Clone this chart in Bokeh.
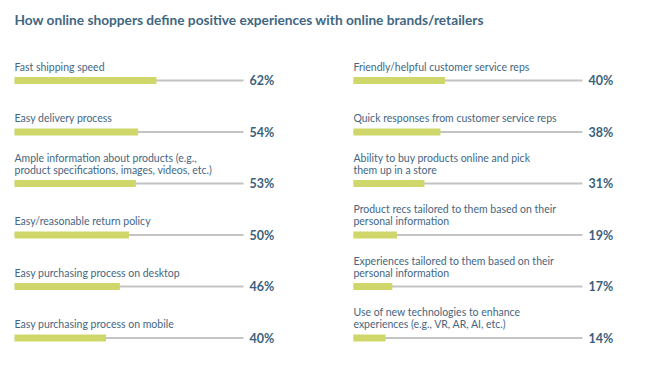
from bokeh.plotting import figure
from bokeh.models import ColumnDataSource, Range1d, Label
from bokeh.embed import file_html
from bokeh.resources import INLINE
from bokeh.core.properties import value

title = "How online shoppers define positive experiences with online brands/retailers"

left_labels = [
    "Fast shipping speed",
    "Easy delivery process",
    "Ample information about products (e.g.,\nproduct specifications, images, videos, etc.)",
    "Easy/reasonable return policy",
    "Easy purchasing process on desktop",
    "Easy purchasing process on mobile",
]
left_values = [62, 54, 53, 50, 46, 40]

right_labels = [
    "Friendly/helpful customer service reps",
    "Quick responses from customer service reps",
    "Ability to buy products online and pick\nthem up in a store",
    "Product recs tailored to them based on their\npersonal information",
    "Experiences tailored to them based on their\npersonal information",
    "Use of new technologies to enhance\nexperiences (e.g., VR, AR, AI, etc.)",
]
right_values = [40, 38, 31, 19, 17, 14]

# layout constants
W, H = 632, 356
PX_PER_UNIT_X = 2.29
PX_PER_ROW = 51.5
X0_PX = 14
ROW0_PX = 80
RIGHT_OFFSET = 148
TRACK_END = 100

x_start = -X0_PX / PX_PER_UNIT_X
x_end = x_start + W / PX_PER_UNIT_X
y_top = -ROW0_PX / PX_PER_ROW
y_bottom = y_top + H / PX_PER_ROW

p = figure(width=W, height=H, output_backend="svg", toolbar_location=None,
           x_range=Range1d(x_start, x_end), y_range=Range1d(y_bottom, y_top),
           min_border=0, min_border_left=0, min_border_right=0,
           min_border_top=0, min_border_bottom=0)
p.axis.visible = False
p.grid.visible = False
p.outline_line_color = None
p.background_fill_color = "white"

LABEL_FONT = value("Lato")
BOLD_FONT = value("Lato")
label_color = "#45667f"
pct_color = "#3c5f7a"
bar_color = "#cfd76a"
track_color = "#c4c4c4"

label_dy = 14.0 / PX_PER_ROW
line_dy = 12.0 / PX_PER_ROW
pct_dy = 0.0 / PX_PER_ROW
pct_dx = (250 - 15) / PX_PER_UNIT_X

for offset, labels, vals in [(0, left_labels, left_values),
                             (RIGHT_OFFSET, right_labels, right_values)]:
    rows = list(range(len(vals)))
    src = ColumnDataSource(dict(
        row=rows,
        left=[offset] * len(vals),
        right=[offset + v for v in vals],
        track_end=[offset + TRACK_END] * len(vals),
        pct_x=[offset + pct_dx] * len(vals),
        pct_y=[r + pct_dy for r in rows],
        pct=[f"{v}%" for v in vals],
    ))
    p.segment(x0="left", y0="row", x1="track_end", y1="row", source=src,
              line_color=track_color, line_width=2)
    p.hbar(y="row", left="left", right="right", height=7 / PX_PER_ROW,
           source=src, fill_color=bar_color, line_color=None)
    p.text(x="pct_x", y="pct_y", text="pct", source=src,
           text_font=BOLD_FONT, text_font_style="bold", text_font_size="12.5px",
           text_color=pct_color, text_align="left", text_baseline="alphabetic")

    lx, ly, lt = [], [], []
    for r, lab in enumerate(labels):
        lines = lab.split("\n")
        n = len(lines)
        for i, ln in enumerate(lines):
            lx.append(offset)
            ly.append(r - label_dy - (n - 1 - i) * line_dy)
            lt.append(ln)
    lsrc = ColumnDataSource(dict(x=lx, y=ly, text=lt))
    p.text(x="x", y="y", text="text", source=lsrc,
           text_font=LABEL_FONT, text_font_size="10.5px",
           text_color=label_color, text_align="left", text_baseline="alphabetic")

p.add_layout(Label(x=X0_PX, y=H - 19, x_units="screen", y_units="screen",
                   text=title, text_font="Lato", text_font_style="bold",
                   text_font_size="13.7px", text_color="#3f6782",
                   text_align="left", text_baseline="alphabetic"))

open("out.html", "w").write(file_html(p, INLINE))
